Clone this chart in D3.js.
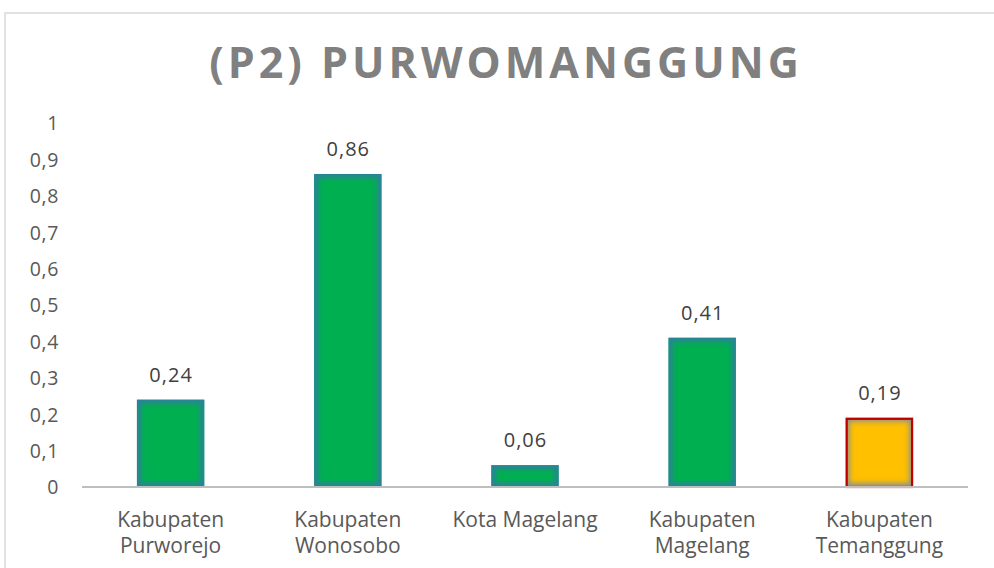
<!DOCTYPE html>
<html><head><meta charset="utf-8">
<script src="https://cdn.jsdelivr.net/npm/d3@7"></script>
<style>body{margin:0;background:#fff}svg{display:block}</style>
</head><body>
<svg id="c" width="994" height="568"></svg>
<script>
const categories = [["Kabupaten","Purworejo"],["Kabupaten","Wonosobo"],["Kota Magelang"],["Kabupaten","Magelang"],["Kabupaten","Temanggung"]];
const values = [0.24, 0.86, 0.06, 0.41, 0.19];
const highlight = [false, false, false, false, true];
const yTicks = [0,0.1,0.2,0.3,0.4,0.5,0.6,0.7,0.8,0.9,1];
const title = "(P2) PURWOMANGGUNG";

const svg = d3.select("#c");
const fmt = v => String(+v.toFixed(2)).replace(".", ",");
const FONT = "'Open Sans', sans-serif";

// frame
svg.append("rect").attr("x",5).attr("y",13).attr("width",1000).attr("height",600)
  .attr("fill","none").attr("stroke","#d9d9d9").attr("stroke-width",1.5);

const defs = svg.append("defs");
defs.append("filter").attr("id","blur").attr("x","-20%").attr("y","-20%").attr("width","140%").attr("height","140%")
  .append("feGaussianBlur").attr("stdDeviation",2.5);

const x = d3.scaleBand().domain(d3.range(values.length)).range([82,968]).paddingInner(0.62).paddingOuter(0.31);
const y = d3.scaleLinear().domain([0,1]).range([487,123]);

// y axis labels
const ya = svg.append("g").attr("transform","translate(59,0)")
  .call(d3.axisLeft(y).tickValues(yTicks).tickFormat(fmt).tickSize(0).tickPadding(0));
ya.select(".domain").remove();
ya.selectAll("text").attr("font-family",FONT).attr("font-size",19.5).attr("letter-spacing",0.6).attr("fill","#595959").attr("dy","0.35em");

// bars
values.forEach((v,i)=>{
  defs.append("clipPath").attr("id","cp"+i).append("rect")
    .attr("x",x(i)).attr("width",x.bandwidth()).attr("y",y(v)).attr("height",y(0)-y(v));
});
const bars = svg.append("g").selectAll("g").data(values).join("g");
bars.append("rect")
  .attr("x",(d,i)=>x(i)).attr("width",x.bandwidth())
  .attr("y",d=>y(d)).attr("height",d=>y(0)-y(d))
  .attr("fill",(d,i)=>highlight[i]?"#FFC000":"#00B050");
bars.append("g").attr("clip-path",(d,i)=>`url(#cp${i})`)
  .append("rect")
  .attr("x",(d,i)=>x(i)).attr("width",x.bandwidth())
  .attr("y",d=>y(d)).attr("height",d=>y(0)-y(d))
  .attr("fill","none").attr("stroke",(d,i)=>highlight[i]?"#8f8f8f":"#2f7f9e")
  .attr("stroke-width",8).attr("opacity",0.95).attr("filter","url(#blur)");
bars.filter((d,i)=>highlight[i]).append("rect")
  .attr("x",(d,i)=>x(4)+1).attr("width",x.bandwidth()-2)
  .attr("y",d=>y(d)+1).attr("height",d=>y(0)-y(d)-1)
  .attr("fill","none").attr("stroke","#C00000").attr("stroke-width",2.2);

// x axis line
svg.append("line").attr("x1",82).attr("x2",968).attr("y1",y(0)).attr("y2",y(0))
  .attr("stroke","#bfbfbf").attr("stroke-width",2);

// data labels
svg.append("g").selectAll("text").data(values).join("text")
  .attr("x",(d,i)=>x(i)+x.bandwidth()/2+0.5).attr("y",d=>y(d)-18)
  .attr("text-anchor","middle").attr("font-family",FONT).attr("font-size",20)
  .attr("letter-spacing",1).attr("fill","#404040").text(fmt);

// category labels
const cl = svg.append("g").selectAll("text").data(categories).join("text")
  .attr("x",(d,i)=>x(i)+x.bandwidth()/2).attr("y",527)
  .attr("text-anchor","middle").attr("font-family",FONT).attr("font-size",21)
  .attr("fill","#595959");
cl.selectAll("tspan").data(d=>d).join("tspan")
  .attr("x",function(){return this.parentNode.getAttribute("x");})
  .attr("dy",(d,i)=>i?26:0).text(d=>d);

// title
svg.append("text").attr("x",506).attr("y",78).attr("text-anchor","middle")
  .attr("font-family",FONT).attr("font-weight","bold").attr("font-size",43)
  .attr("letter-spacing",4).attr("fill","#808080").text(title);
</script>
</body></html>
